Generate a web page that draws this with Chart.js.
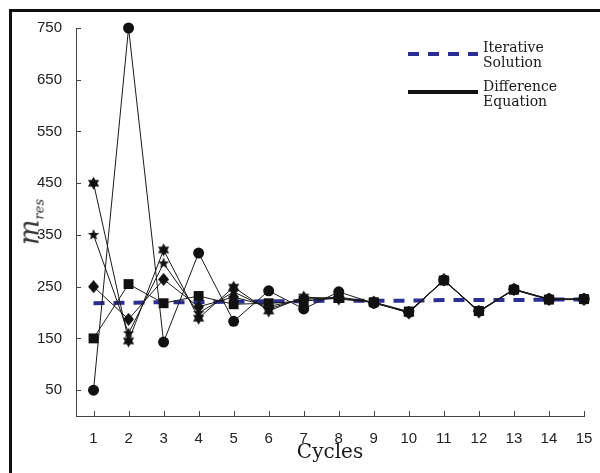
<!DOCTYPE html>
<html>
<head>
<meta charset="utf-8">
<script src="https://cdn.jsdelivr.net/npm/chart.js@4.4.1/dist/chart.umd.min.js"></script>
<style>
    html, body { margin: 0; padding: 0; background: #fff; }
    body { width: 600px; height: 473px; position: relative; overflow: hidden; }
    #frame { position: absolute; left: 9px; top: 9px; width: 700px; height: 600px;
             border-left: 3px solid #111; border-top: 3px solid #111; }
    #chart { position: absolute; left: 0; top: 0; }
    .serif { position: absolute; font-family: "DejaVu Serif", serif; color: #1a1a1a; white-space: nowrap; }
    .legText { font-size: 14px; line-height: 15px; left: 483px; }
    #xTitle { font-size: 20px; line-height: 24px; left: 330px; top: 439px; transform: translateX(-50%); }
    #yTitle { left: 30px; top: 222px; transform: translate(-50%, -50%) rotate(-90deg); font-style: italic; font-size: 27px; color: #333; }
    #yTitle sub { font-size: 13px; vertical-align: -5px; }
    svg { position: absolute; }
</style>
</head>
<body>
<div id="frame"></div>
<canvas id="chart" width="600" height="473"></canvas>

<div id="yTitle" class="serif">m<sub>res</sub></div>
<div id="xTitle" class="serif">Cycles</div>

<svg style="left:406px;top:50px" width="76" height="8">
    <line x1="2" y1="4" x2="72" y2="4" stroke="#2b2f94" stroke-width="4" stroke-dasharray="11 9"/>
</svg>
<div class="serif legText" style="top:40px">Iterative<br>Solution</div>
<svg style="left:406px;top:88px" width="76" height="8">
    <line x1="2" y1="4" x2="72" y2="4" stroke="#111" stroke-width="4"/>
</svg>
<div class="serif legText" style="top:79px">Difference<br>Equation</div>

<script>
// Cycle numbers and tick labels
const cycles = [1, 2, 3, 4, 5, 6, 7, 8, 9, 10, 11, 12, 13, 14, 15];
const yTicks = [50, 150, 250, 350, 450, 550, 650, 750];

// Iterative solution (blue dashed)
const iterative = [218, 219, 220, 220, 221, 222, 222, 223, 223, 223, 224, 224, 224, 225, 225];

// Difference equation runs, one per starting value
const runCircle  = [50, 750, 143, 315, 183, 242, 207, 240, 218, 201, 263, 203, 245, 226, 226];
const runSquare  = [150, 255, 218, 232, 216, 218, 222, 228, 220, 202, 262, 203, 244, 225, 226];
const runDiamond = [250, 187, 264, 211, 230, 212, 225, 230, 220, 200, 263, 202, 245, 226, 226];
const runStar    = [350, 160, 295, 199, 240, 207, 228, 228, 219, 200, 262, 202, 244, 225, 225];
const runHexa    = [450, 145, 321, 189, 249, 203, 230, 226, 220, 199, 263, 201, 245, 226, 226];

const markColor = '#111';
const axisColor = '#444';

// Build a filled star marker as a small canvas
function starMarker(spikes, outer, inner) {
    const size = Math.ceil(outer * 2) + 2;
    const c = document.createElement('canvas');
    c.width = size;
    c.height = size;
    const g = c.getContext('2d');
    g.fillStyle = markColor;
    g.beginPath();
    for (let i = 0; i < spikes * 2; i++) {
        const r = i % 2 === 0 ? outer : inner;
        const a = -Math.PI / 2 + i * Math.PI / spikes;
        const px = size / 2 + r * Math.cos(a);
        const py = size / 2 + r * Math.sin(a);
        if (i === 0) g.moveTo(px, py); else g.lineTo(px, py);
    }
    g.closePath();
    g.fill();
    return c;
}

// Tall diamond marker
function diamondMarker(w, h) {
    const c = document.createElement('canvas');
    c.width = w;
    c.height = h;
    const g = c.getContext('2d');
    g.fillStyle = markColor;
    g.beginPath();
    g.moveTo(w / 2, 0);
    g.lineTo(w, h / 2);
    g.lineTo(w / 2, h);
    g.lineTo(0, h / 2);
    g.closePath();
    g.fill();
    return c;
}

function toPoints(values) {
    return cycles.map((c, i) => ({ x: c, y: values[i] }));
}

function runDataset(values, style, radius) {
    return {
        data: toPoints(values),
        borderColor: '#1a1a1a',
        borderWidth: 1,
        pointStyle: style,
        pointRadius: radius,
        pointBackgroundColor: markColor,
        pointBorderColor: markColor,
        pointBorderWidth: 0,
        clip: false
    };
}

// Tick marks drawn on the inside of the axes
const innerTicks = {
    id: 'innerTicks',
    afterDraw(chart) {
        const { ctx, chartArea, scales } = chart;
        ctx.save();
        ctx.strokeStyle = axisColor;
        ctx.lineWidth = 1;
        ctx.beginPath();
        scales.x.ticks.forEach(t => {
            const px = Math.round(scales.x.getPixelForValue(t.value)) + 0.5;
            ctx.moveTo(px, chartArea.bottom);
            ctx.lineTo(px, chartArea.bottom - 5);
        });
        scales.y.ticks.forEach(t => {
            const py = Math.round(scales.y.getPixelForValue(t.value)) + 0.5;
            ctx.moveTo(chartArea.left, py);
            ctx.lineTo(chartArea.left + 5, py);
        });
        ctx.stroke();
        ctx.restore();
    }
};

const tickFont = { family: '"Liberation Sans", Arial, sans-serif', size: 15 };

new Chart(document.getElementById('chart'), {
    type: 'line',
    data: {
        datasets: [
            runDataset(runCircle, 'circle', 5.5),
            runDataset(runSquare, 'rect', 7),
            runDataset(runDiamond, diamondMarker(11, 13), 5),
            runDataset(runStar, starMarker(5, 6, 2.6), 5),
            runDataset(runHexa, starMarker(6, 6.5, 3.7), 5),
            {
                data: toPoints(iterative),
                borderColor: '#2b2f94',
                borderWidth: 4,
                borderDash: [11, 9],
                pointRadius: 0,
                clip: false
            }
        ]
    },
    options: {
        responsive: false,
        animation: false,
        devicePixelRatio: 1,
        layout: { padding: { top: 28, right: 16, bottom: 0, left: 0 } },
        plugins: {
            legend: { display: false },
            tooltip: { enabled: false }
        },
        scales: {
            x: {
                type: 'linear',
                min: 0.5,
                max: 15,
                afterBuildTicks: scale => { scale.ticks = cycles.map(v => ({ value: v })); },
                afterFit: scale => { scale.height = 57; },
                grid: { display: false },
                border: { display: true, color: axisColor, width: 1 },
                ticks: { color: '#222', font: tickFont, padding: 6, maxRotation: 0, autoSkip: false }
            },
            y: {
                type: 'linear',
                min: 0,
                max: 750,
                afterBuildTicks: scale => { scale.ticks = yTicks.map(v => ({ value: v })); },
                afterFit: scale => { scale.width = 76; },
                grid: { display: false },
                border: { display: true, color: axisColor, width: 1 },
                ticks: { color: '#222', font: tickFont, padding: 6 }
            }
        }
    },
    plugins: [innerTicks]
});
</script>
</body>
</html>
